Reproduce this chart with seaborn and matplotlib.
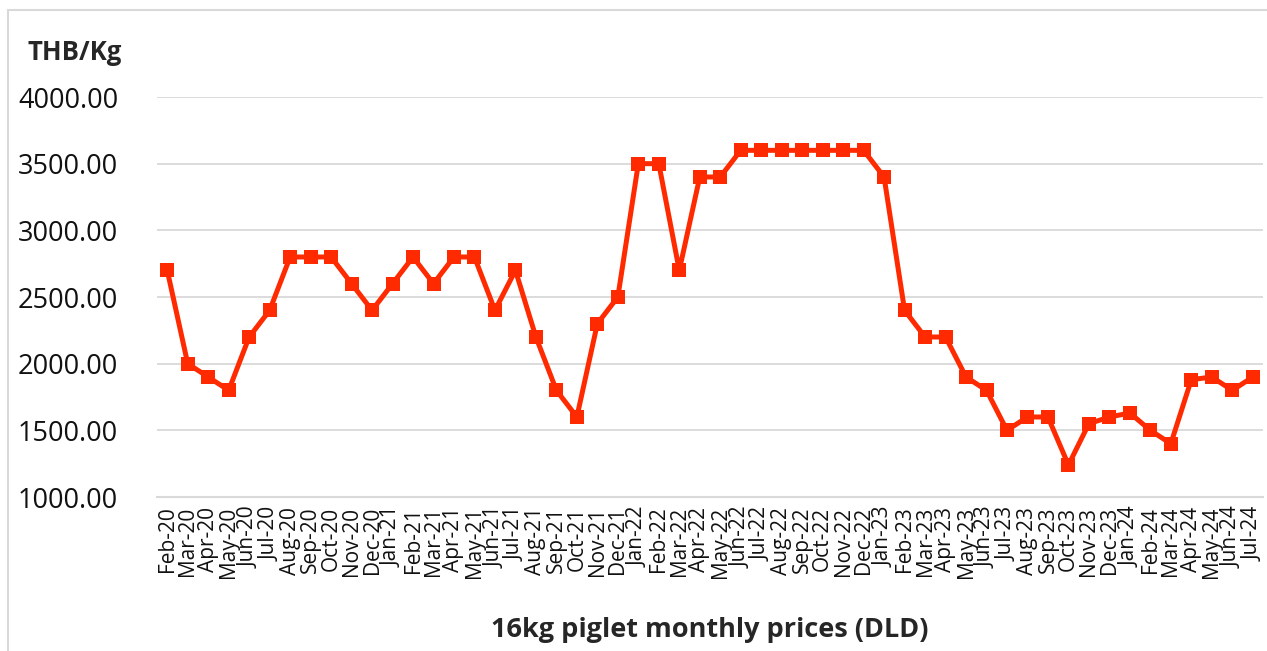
import numpy as np
import pandas as pd
import matplotlib
matplotlib.use("Agg")
import matplotlib.pyplot as plt
from matplotlib.lines import Line2D
import seaborn as sns

# Monthly piglet prices (THB per 16kg piglet), Feb-20 .. Jul-24
months = ['Feb-20', 'Mar-20', 'Apr-20', 'May-20', 'Jun-20', 'Jul-20', 'Aug-20', 'Sep-20', 'Oct-20',
          'Nov-20', 'Dec-20',
          'Jan-21', 'Feb-21', 'Mar-21', 'Apr-21', 'May-21', 'Jun-21', 'Jul-21', 'Aug-21', 'Sep-21',
          'Oct-21', 'Nov-21', 'Dec-21',
          'Jan-22', 'Feb-22', 'Mar-22', 'Apr-22', 'May-22', 'Jun-22', 'Jul-22', 'Aug-22', 'Sep-22',
          'Oct-22', 'Nov-22', 'Dec-22',
          'Jan-23', 'Feb-23', 'Mar-23', 'Apr-23', 'May-23', 'Jun-23', 'Jul-23', 'Aug-23', 'Sep-23',
          'Oct-23', 'Nov-23', 'Dec-23',
          'Jan-24', 'Feb-24', 'Mar-24', 'Apr-24', 'May-24', 'Jun-24', 'Jul-24']
prices = [2700, 2000, 1900, 1800, 2200, 2400, 2800, 2800, 2800, 2600, 2400,
          2600, 2800, 2600, 2800, 2800, 2400, 2700, 2200, 1800, 1600, 2300, 2500,
          3500, 3500, 2700, 3400, 3400, 3600, 3600, 3600, 3600, 3600, 3600, 3600,
          3400, 2400, 2200, 2200, 1900, 1800, 1500, 1600, 1600, 1240, 1550, 1600,
          1630, 1500, 1400, 1880, 1900, 1800, 1900]

df = pd.DataFrame({'month': months, 'price': prices})
df['pos'] = np.arange(len(df))

sns.set_style("white")
plt.rcParams['font.family'] = ['Open Sans', 'DejaVu Sans']

W, H = 1267, 651
fig = plt.figure(figsize=(W / 100, H / 100), dpi=100)
ax = fig.add_axes([157 / W, 1 - 497 / H, (1263 - 157) / W, (497 - 97) / H])

sns.lineplot(data=df, x='pos', y='price', ax=ax, color='#ff2a00', linewidth=3.6,
             marker='s', markersize=9.5, markeredgewidth=0, markerfacecolor='#ff2a00')

ax.set_xlim(-0.5, len(df) - 0.5)
ax.set_ylim(1000, 4000)
yt = np.arange(1000, 4001, 500)
ax.set_yticks(yt)
ax.set_yticklabels([f'{v:.2f}' for v in yt], fontsize=19.5, color='#111111')
ax.yaxis.grid(True, color='#d9d9d9', linewidth=1.3)
ax.tick_params(axis='y', length=0, pad=28)

ax.set_xticks(df['pos'])
ax.set_xticklabels(df['month'], rotation=90, fontsize=15, color='#111111')
ax.set_xticks(np.arange(-0.5, len(df), 1), minor=True)
ax.tick_params(axis='x', which='major', length=0, pad=7)
ax.tick_params(axis='x', which='minor', length=6, color='#d9d9d9', width=1.2)

for s in ['top', 'right', 'left']:
    ax.spines[s].set_visible(False)
ax.spines['bottom'].set_color('#d9d9d9')
ax.spines['bottom'].set_linewidth(1.5)

ax.set_xlabel('16kg piglet monthly prices (DLD)', fontsize=19.5, fontweight='bold', labelpad=28)
ax.set_ylabel('')
fig.text(27 / W, 1 - 52 / H, 'THB/Kg', fontsize=18.5, fontweight='bold', va='center', ha='left')

# light chart frame (top and left edges visible)
fig.add_artist(Line2D([7.5 / W, 7.5 / W], [0, 1 - 9.5 / H], transform=fig.transFigure,
                      color='#d9d9d9', linewidth=1.5))
fig.add_artist(Line2D([7.5 / W, 1], [1 - 9.5 / H, 1 - 9.5 / H], transform=fig.transFigure,
                      color='#d9d9d9', linewidth=1.5))

fig.savefig('out.png', dpi=100)
